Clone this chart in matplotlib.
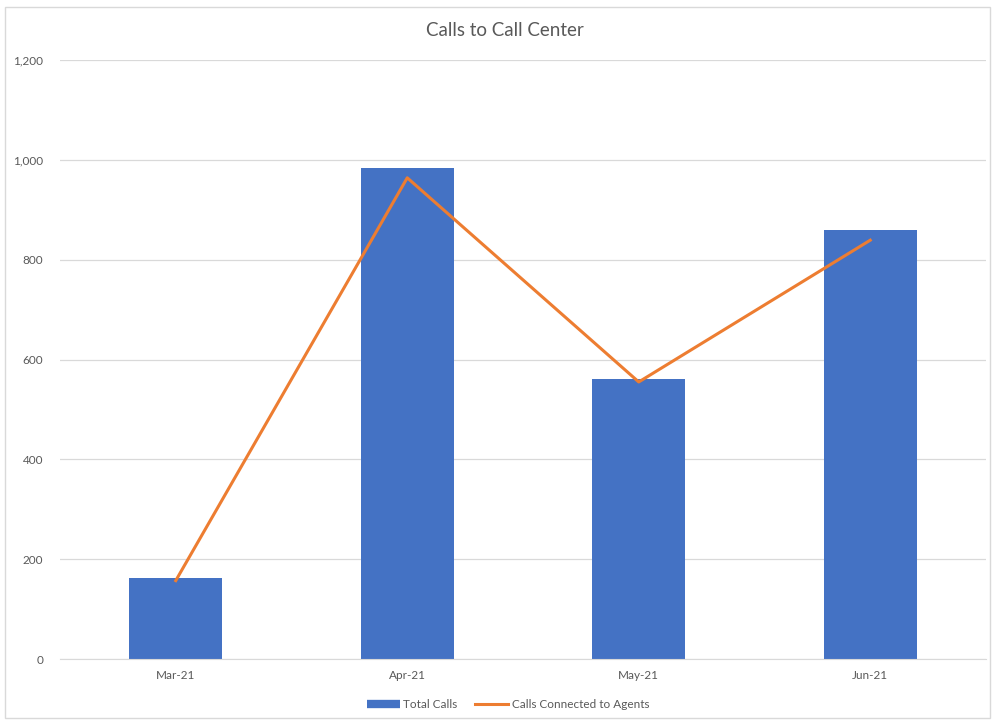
import matplotlib
matplotlib.use("Agg")
import matplotlib.pyplot as plt
from matplotlib.patches import Rectangle
from matplotlib.lines import Line2D
from matplotlib.ticker import FuncFormatter

months = ["Mar-21", "Apr-21", "May-21", "Jun-21"]
total_calls = [163, 984, 560, 859]
connected = [157, 964, 555, 839]

plt.rcParams['font.family'] = ['Lato', 'DejaVu Sans']
W, H = 994, 723
fig = plt.figure(figsize=(W / 100, H / 100), dpi=100)
ax = fig.add_axes([60 / W, (H - 659) / H, (986 - 60) / W, (659 - 60) / H])

x = list(range(len(months)))
ax.bar(x, total_calls, width=0.4, color="#4472C4", label="Total Calls", zorder=2)
ax.plot(x, connected, color="#ED7D31", linewidth=2.2, label="Calls Connected to Agents", zorder=3)

ax.set_xlim(-0.5, len(months) - 0.5)
ax.set_ylim(0, 1200)
ax.set_yticks(range(0, 1201, 200))
ax.yaxis.set_major_formatter(FuncFormatter(lambda v, p: f"{int(v):,}"))
ax.set_xticks(x)
ax.set_xticklabels(months)
ax.grid(axis="y", color="#D9D9D9", linewidth=0.9, zorder=0)
for s in ["top", "right", "left"]:
    ax.spines[s].set_visible(False)
ax.spines["bottom"].set_color("#D9D9D9")
ax.tick_params(axis="both", length=0, colors="#595959", labelsize=8.5)
ax.tick_params(axis="y", pad=12)
ax.tick_params(axis="x", pad=8)

fig.text(505 / W, 1 - 31 / H, "Calls to Call Center", ha="center", va="center",
         fontsize=13.5, color="#595959")

handles = [Line2D([0], [0], color="#4472C4", linewidth=6, solid_capstyle="butt"),
           Line2D([0], [0], color="#ED7D31", linewidth=2.2)]
leg = fig.legend(handles, ["Total Calls", "Calls Connected to Agents"], loc="center",
                 bbox_to_anchor=(508 / W, 1 - 705 / H), ncol=2, frameon=False,
                 fontsize=8.5, handlelength=2.8, columnspacing=1.5, handletextpad=0.3)
for t in leg.get_texts():
    t.set_color("#595959")

fig.patches.append(Rectangle((5 / W, 1 - 718 / H), 985 / W, 711 / H, transform=fig.transFigure,
                             fill=False, edgecolor="#D9D9D9", linewidth=1))

fig.savefig("out.png", dpi=100, facecolor="white")
